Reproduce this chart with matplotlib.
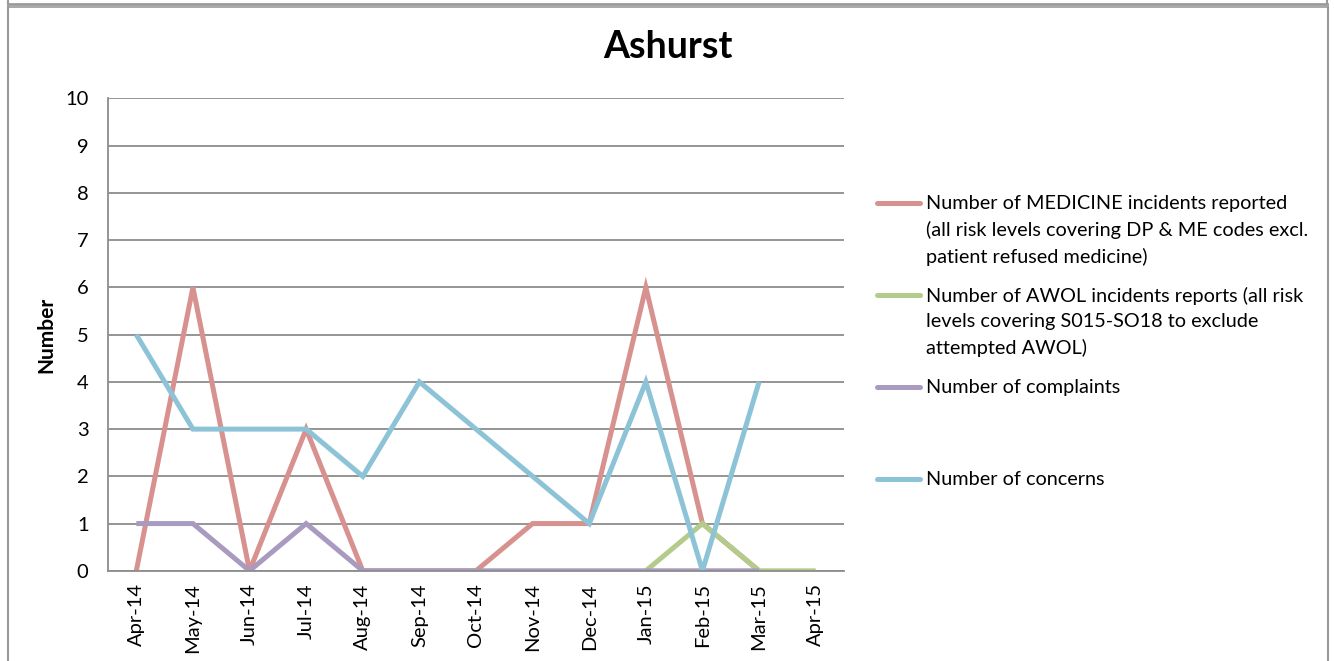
import numpy as np
import matplotlib
matplotlib.use("Agg")
import matplotlib.pyplot as plt
from matplotlib.lines import Line2D

plt.rcParams['font.family'] = ['Lato', 'DejaVu Sans']

months = ["Apr-14", "May-14", "Jun-14", "Jul-14", "Aug-14", "Sep-14", "Oct-14",
          "Nov-14", "Dec-14", "Jan-15", "Feb-15", "Mar-15", "Apr-15"]
nan = np.nan
medicine = [0, 6, 0, 3, 0, 0, 0, 1, 1, 6, 1, 0, nan]
awol = [nan, nan, nan, nan, nan, nan, nan, nan, nan, 0, 1, 0, 0]
complaints = [1, 1, 0, 1, 0, 0, 0, 0, 0, 0, 0, 0, nan]
concerns = [5, 3, 3, 3, 2, 4, 3, 2, 1, 4, 0, 4, nan]

labels = [
    "Number of MEDICINE incidents reported\n(all risk levels covering DP & ME codes excl.\npatient refused medicine)",
    "Number of AWOL incidents reports (all risk\nlevels covering S015-SO18 to exclude\nattempted AWOL)",
    "Number of complaints",
    "Number of concerns",
]
colors = ["#D7918E", "#B4CC8B", "#A99BC0", "#8DC3D7"]
series = [medicine, awol, complaints, concerns]

W, H = 1334, 661
fig = plt.figure(figsize=(W / 100, H / 100), dpi=100)

def fx(px):
    return px / W

def fy(py):
    return 1 - py / H

# outer frames
border = "#9a9a9a"
fig.add_artist(Line2D([fx(8), fx(1327)], [fy(3.5), fy(3.5)], color=border, lw=2))
fig.add_artist(Line2D([fx(8), fx(8)], [fy(0), fy(3.5)], color=border, lw=1.5))
fig.add_artist(Line2D([fx(1327), fx(1327)], [fy(0), fy(3.5)], color=border, lw=1.5))
fig.add_artist(Line2D([fx(8), fx(1328)], [fy(6.5), fy(6.5)], color=border, lw=1.2))
fig.add_artist(Line2D([fx(7.5), fx(7.5)], [fy(6.5), fy(661)], color=border, lw=1.5))
fig.add_artist(Line2D([fx(1328), fx(1328)], [fy(6.5), fy(661)], color=border, lw=1.5))

# axes
left, right, top, bottom = 108, 844, 98.5, 570.8
ax = fig.add_axes([fx(left), fy(bottom), fx(right - left), (bottom - top) / H])
x = np.arange(len(months))
for vals, c in zip(series, colors):
    ax.plot(x, vals, color=c, lw=3.6, solid_capstyle='butt', solid_joinstyle='miter')

ax.set_xlim(-0.5, len(months) - 0.5)
ax.set_ylim(0, 10)
ax.set_yticks(range(0, 11))
ax.set_xticks(x)
ax.set_xticklabels(months, rotation=90)
ax.tick_params(axis='both', length=0, labelsize=14.5, colors='black')
ax.tick_params(axis='y', pad=14)
ax.tick_params(axis='x', pad=9)
ax.grid(axis='y', color='#8c8c8c', lw=1.3)
ax.set_axisbelow(True)
for s in ['top', 'right']:
    ax.spines[s].set_visible(False)
for s in ['left', 'bottom']:
    ax.spines[s].set_color('#8c8c8c')
    ax.spines[s].set_linewidth(1.3)
ax.set_ylabel("Number", fontsize=15, fontweight='bold', labelpad=6)

fig.text(fx(668), fy(47), "Ashurst", ha='center', va='center', fontsize=27, fontweight='bold')

# legend
leg_y = [203, 295, 387, 479]
for lab, c, yy in zip(labels, colors, leg_y):
    fig.add_artist(Line2D([fx(877), fx(920)], [fy(yy), fy(yy)], color=c, lw=3.6,
                          solid_capstyle='round'))
    fig.text(fx(926), fy(yy - 8), lab, ha='left', va='top', fontsize=14.3,
             linespacing=1.58)

fig.savefig("out.png", dpi=100)
